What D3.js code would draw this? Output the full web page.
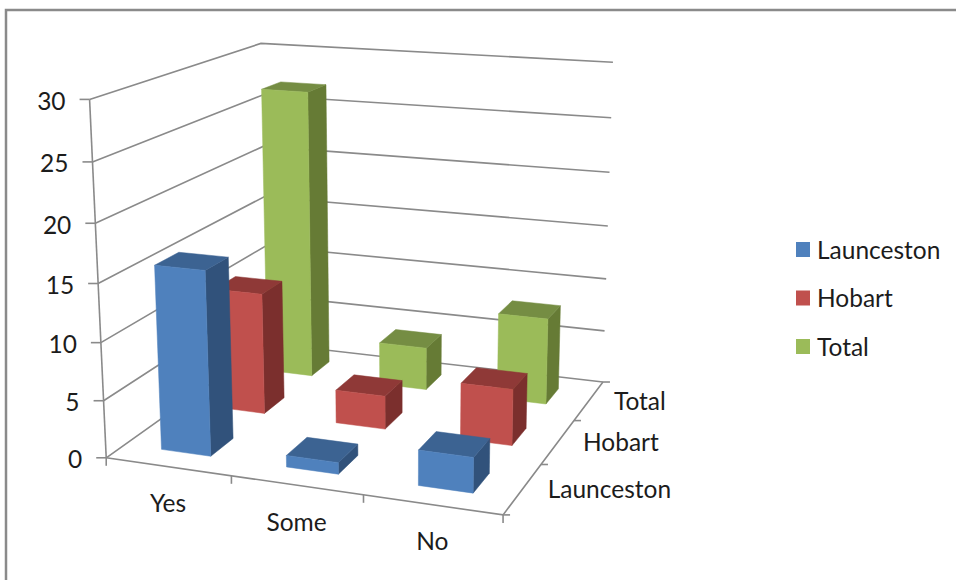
<!DOCTYPE html>
<html>
<head>
<meta charset="utf-8">
<style>
  html, body { margin: 0; padding: 0; background: #fff; }
  svg { display: block; }
  text { font-family: Lato, "Open Sans", sans-serif; font-size: 24.5px; fill: #1c1c1c; }
</style>
<script src="https://cdn.jsdelivr.net/npm/d3@7"></script>
</head>
<body>
<svg id="chart" width="956" height="580"></svg>
<script>
// Chart data
const categories = ["Yes", "Some", "No"];
const seriesNames = ["Launceston", "Hobart", "Total"];
const launceston = [16, 1, 3];
const hobart = [11, 3, 5];
const total = [27, 4, 8];
const seriesValues = [launceston, hobart, total];
const valueTicks = [0, 5, 10, 15, 20, 25, 30];

// Palette: [front, side, top] shade for each series
const palette = [
  ["#4f81bd", "#31527b", "#3c6392"],
  ["#c0504d", "#7b2f2d", "#8f3937"],
  ["#9bbb59", "#667b35", "#758d43"]
];
const axisColor = "#8a8a8a";

// Where the corners of the plot box land on the page: [u, v, w] -> [x, y]
const boxCorners = [
  [[0, 0, 0], [104, 459]],
  [[1, 0, 0], [503, 514]],
  [[1, 1, 0], [602, 383]],
  [[0, 1, 0], [270, 342]],
  [[0, 0, 1], [92, 99]],
  [[0, 1, 1], [258, 44]],
  [[1, 1, 1], [614, 62]]
];

// Solve A x = b by Gaussian elimination with pivoting
function solveLinear(A, b) {
  const n = b.length;
  const M = A.map((row, i) => [...row, b[i]]);
  for (let c = 0; c < n; c++) {
    let p = c;
    for (let r = c + 1; r < n; r++) if (Math.abs(M[r][c]) > Math.abs(M[p][c])) p = r;
    [M[c], M[p]] = [M[p], M[c]];
    for (let r = 0; r < n; r++) {
      if (r === c) continue;
      const f = M[r][c] / M[c][c];
      for (let k = c; k <= n; k++) M[r][k] -= f * M[c][k];
    }
  }
  return M.map((row, i) => row[n] / row[i]);
}

// Least-squares pinhole camera through the box corners
function fitCamera(pairs) {
  const rows = [], rhs = [];
  const s = 500;
  pairs.forEach(([[u, v, w], [x0, y0]]) => {
    const x = x0 / s, y = y0 / s;
    rows.push([u, v, w, 1, 0, 0, 0, 0, -x * u, -x * v, -x * w]); rhs.push(x);
    rows.push([0, 0, 0, 0, u, v, w, 1, -y * u, -y * v, -y * w]); rhs.push(y);
  });
  const ata = d3.range(11).map(i => d3.range(11).map(j => d3.sum(rows, r => r[i] * r[j])));
  const atb = d3.range(11).map(i => d3.sum(rows, (r, k) => r[i] * rhs[k]));
  const c = solveLinear(ata, atb);
  return ([u, v, w]) => {
    const d = c[8] * u + c[9] * v + c[10] * w + 1;
    return [
      s * (c[0] * u + c[1] * v + c[2] * w + c[3]) / d,
      s * (c[4] * u + c[5] * v + c[6] * w + c[7]) / d
    ];
  };
}
const project = fitCamera(boxCorners);

// Data scales into the unit box
const uScale = d3.scaleBand().domain(categories).range([0, 1]).paddingInner(0).paddingOuter(0);
const vScale = d3.scaleBand().domain(seriesNames).range([0, 1]);
const wScale = d3.scaleLinear().domain([0, 30]).range([0, 1]);
const barFraction = 0.4; // gap of 150% on both floor axes

const svg = d3.select("#chart");
const polyline = d3.line();

function stroke3d(g, pts, width = 1.6) {
  g.append("path")
    .attr("d", polyline(pts.map(project)))
    .attr("fill", "none")
    .attr("stroke", axisColor)
    .attr("stroke-width", width);
}

// Outer frame: only the top and left rules show
svg.append("path")
  .attr("d", "M6,580V10H956")
  .attr("fill", "none")
  .attr("stroke", "#8a8a8a")
  .attr("stroke-width", 2.5);

// Gridlines on the side and back walls, plus floor edges
const grid = svg.append("g");
valueTicks.forEach(t => {
  const w = wScale(t);
  stroke3d(grid, [[0, 0, w], [0, 1, w], [1, 1, w]]);
});
stroke3d(grid, [[0, 0, 0], [0, 0, 1]]);
stroke3d(grid, [[0, 0, 0], [1, 0, 0], [1, 1, 0]]);

// Tick marks
const ticks = svg.append("g").attr("stroke", axisColor).attr("stroke-width", 1.6);
function tick(p, dx, dy) {
  const [x, y] = project(p);
  ticks.append("line").attr("x1", x).attr("y1", y).attr("x2", x + dx).attr("y2", y + dy);
}
valueTicks.forEach(t => tick([0, 0, wScale(t)], -10, 0));
d3.range(categories.length + 1).forEach(i => tick([i / categories.length, 0, 0], 0, 8));
d3.range(seriesNames.length + 1).forEach(i => tick([1, i / seriesNames.length, 0], 7, 0));

// Value labels
svg.append("g").selectAll("text").data(valueTicks).join("text")
  .text(d => d)
  .attr("text-anchor", "end")
  .attr("dominant-baseline", "central")
  .attr("x", d => project([0, 0, wScale(d)])[0] - 24)
  .attr("y", d => project([0, 0, wScale(d)])[1] + 1);

// Category labels under the front edge
svg.append("g").selectAll("text").data(categories).join("text")
  .text(d => d)
  .attr("text-anchor", "middle")
  .attr("dominant-baseline", "central")
  .attr("x", d => project([uScale(d) + uScale.bandwidth() / 2, 0, 0])[0])
  .attr("y", d => project([uScale(d) + uScale.bandwidth() / 2, 0, 0])[1] + 36);

// Series labels along the right floor edge
svg.append("g").selectAll("text").data(seriesNames).join("text")
  .text(d => d)
  .attr("dominant-baseline", "central")
  .attr("x", d => project([1, vScale(d) + vScale.bandwidth() / 2, 0])[0] + 25)
  .attr("y", d => project([1, vScale(d) + vScale.bandwidth() / 2, 0])[1]);

// Bars, painted from the back row forward
const bars = svg.append("g");
function face(pts, fill) {
  bars.append("path")
    .attr("d", polyline(pts.map(project)) + "Z")
    .attr("fill", fill)
    .attr("stroke", fill)
    .attr("stroke-width", 0.5);
}
d3.range(seriesNames.length).reverse().forEach(si => {
  const name = seriesNames[si];
  const inset = vScale.bandwidth() * (1 - barFraction) / 2;
  const v0 = vScale(name) + inset, v1 = vScale(name) + vScale.bandwidth() - inset;
  categories.forEach((cat, ci) => {
    const pad = uScale.bandwidth() * (1 - barFraction) / 2;
    const u0 = uScale(cat) + pad, u1 = uScale(cat) + uScale.bandwidth() - pad;
    const w = wScale(seriesValues[si][ci]);
    const [front, side, top] = palette[si];
    face([[u1, v0, 0], [u1, v1, 0], [u1, v1, w], [u1, v0, w]], side);
    face([[u0, v0, w], [u1, v0, w], [u1, v1, w], [u0, v1, w]], top);
    face([[u0, v0, 0], [u1, v0, 0], [u1, v0, w], [u0, v0, w]], front);
  });
});

// Legend
const legendY = d3.scalePoint().domain(seriesNames).range([249, 346]);
const legend = svg.append("g").selectAll("g").data(seriesNames).join("g")
  .attr("transform", d => `translate(796,${legendY(d)})`);
legend.append("rect")
  .attr("x", 0).attr("y", -7).attr("width", 14).attr("height", 15)
  .attr("fill", (d, i) => palette[i][0]);
legend.append("text")
  .text(d => d)
  .attr("x", 21)
  .attr("dominant-baseline", "central");
</script>
</body>
</html>
